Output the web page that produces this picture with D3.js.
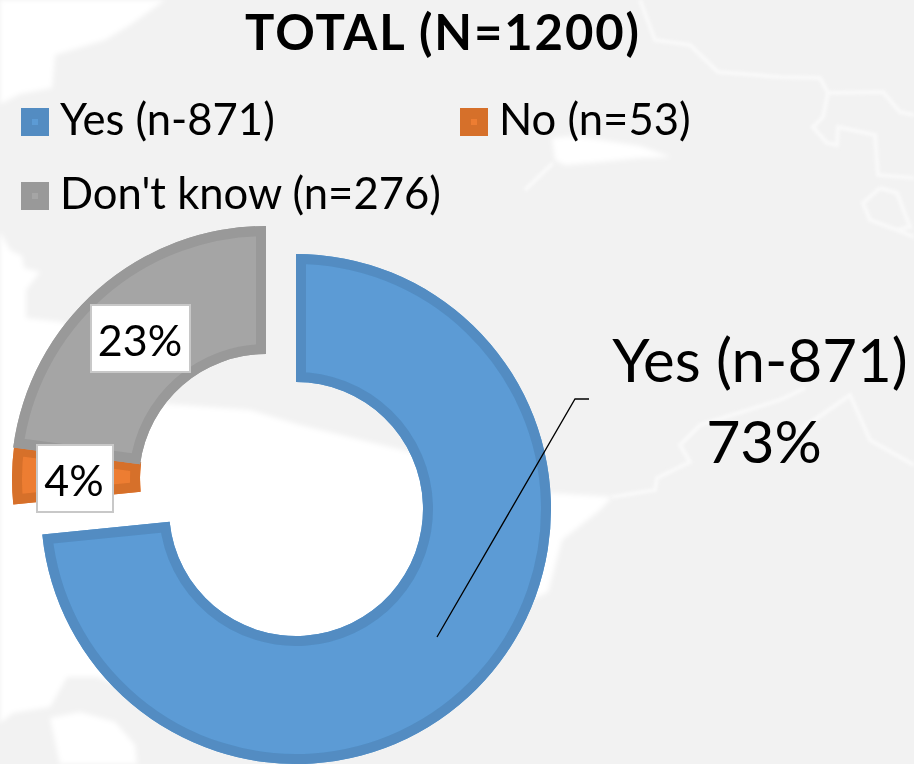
<!DOCTYPE html>
<html><head><meta charset="utf-8">
<script src="https://cdn.jsdelivr.net/npm/d3@7/dist/d3.min.js"></script>
<style>html,body{margin:0;padding:0;background:#fff;overflow:hidden}svg{display:block}text{font-family:Lato,"Open Sans",sans-serif;fill:#000}</style>
</head><body><svg id="c" width="914" height="764"></svg>
<script>
const chartTitle = "TOTAL (N=1200)";
const categories = ["Yes (n-871)", "No (n=53)", "Don't know (n=276)"];
const sliceShares = [73.4, 3.7, 22.9];
const sliceLabels = ["73%", "4%", "23%"];
const fills = ["#5b9bd5", "#ed7d31", "#a5a5a5"];
const borders = ["#528cc2", "#d66f2b", "#999999"];
const centers = [[296, 509], [267, 479], [266, 481]];
const legendPos = [[21, 108], [460, 108], [21, 182]];
const labelBoxes = [null, [37, 445, 76, 67], [91, 305, 99, 67]];

// faint map behind the chart
const seaShapes = [
  [[0,0],[165,0],[130,25],[105,40],[55,55],[52,88],[20,94],[0,104]],
  [[0,232],[10,250],[22,256],[24,268],[40,272],[26,290],[26,318],[62,322],[120,370],[168,404],[250,410],[300,425],[410,452],[470,470],[551,493],[612,497],[600,510],[562,540],[548,592],[450,640],[300,720],[130,690],[97,677],[67,677],[50,707],[13,713],[0,723]],
  [[50,718],[80,712],[115,722],[135,745],[137,764],[60,764]],
  [[552,138],[575,136],[640,146],[671,157],[640,158],[590,163],[565,165],[555,160]]
];
const coastLines = [
  [[640,0],[655,40],[690,45],[718,72],[780,77],[820,78],[828,93],[883,92],[900,112],[914,115]],
  [[828,93],[823,117],[813,127],[827,143],[837,145],[838,127],[875,135],[878,175],[914,178]],
  [[880,188],[863,203],[870,220],[897,230],[910,227],[897,193],[880,188]],
  [[897,230],[914,237]],
  [[553,163],[525,190]],
  [[612,497],[655,490],[657,478],[690,462],[680,445],[700,425],[780,400],[805,388]],
  [[800,430],[850,395],[870,440],[914,465]]
];

const svg = d3.select("#c");
const defs = svg.append("defs");
const mk = (id, s) => defs.append("filter").attr("id", id).attr("x","-5%").attr("y","-5%").attr("width","110%").attr("height","110%")
  .append("feGaussianBlur").attr("stdDeviation", s);
mk("soft", 2.5); mk("thin", 1.5); mk("txt", 0.4);

svg.append("rect").attr("width",914).attr("height",764).attr("fill","#f2f2f2");
const line = d3.line();
svg.append("g").attr("filter","url(#soft)").selectAll(".sea").data(seaShapes).join("path")
  .attr("d", d => line(d)+"Z").attr("fill","#fff");
svg.append("g").attr("filter","url(#thin)").selectAll("path").data(coastLines).join("path")
  .attr("d", line).attr("fill","none").attr("stroke","#f9f9f9").attr("stroke-width",4);

const pie = d3.pie().sort(null).value(d => d);
const arc = d3.arc().innerRadius(127).outerRadius(255);
const arcs = pie(sliceShares);
const slices = svg.append("g").attr("filter","url(#txt)").selectAll("g").data(arcs).join("g")
  .attr("transform",(d,i)=>`translate(${centers[i]})`);
slices.each(function(d,i){
  defs.append("clipPath").attr("id","s"+i).append("path").attr("d",arc(d));
});
slices.append("path").attr("d",arc).attr("fill",(d,i)=>fills[i]);
slices.append("path").attr("d",arc).attr("fill","none").attr("stroke",(d,i)=>borders[i])
  .attr("stroke-width",20).attr("clip-path",(d,i)=>`url(#s${i})`);

// leader line
svg.append("path").attr("d",line([[589,399],[575,399],[437,637]])).attr("fill","none").attr("stroke","#000").attr("stroke-width",1.3);

// data-label boxes
const boxes = svg.append("g");
labelBoxes.forEach((b,i)=>{
  if(!b) return;
  boxes.append("rect").attr("x",b[0]).attr("y",b[1]).attr("width",b[2]).attr("height",b[3])
    .attr("fill","#fff").attr("stroke","#c8c8c8").attr("stroke-width",2);
});

const t = svg.append("g").attr("filter","url(#txt)");
t.append("text").attr("x",443).attr("y",50).attr("text-anchor","middle").attr("font-size",49).attr("letter-spacing",1.9).attr("font-weight",700).text(chartTitle);

categories.forEach((c,i)=>{
  const [x,y]=legendPos[i];
  t.append("rect").attr("x",x).attr("y",y).attr("width",28).attr("height",28).attr("fill",borders[i]);
  t.append("rect").attr("x",x+11).attr("y",y+11).attr("width",6).attr("height",6).attr("fill",fills[i]);
  t.append("text").attr("x",x+39).attr("y",y+27).attr("font-size",43.6).text(c);
});

t.append("text").attr("x",140).attr("y",356).attr("text-anchor","middle").attr("font-size",43).text(sliceLabels[2]);
t.append("text").attr("x",74).attr("y",496).attr("text-anchor","middle").attr("font-size",43).text(sliceLabels[1]);
t.append("text").attr("x",760).attr("y",382).attr("text-anchor","middle").attr("font-size",60).text(categories[0]);
t.append("text").attr("x",764).attr("y",463).attr("text-anchor","middle").attr("font-size",59).text(sliceLabels[0]);
</script></body></html>
